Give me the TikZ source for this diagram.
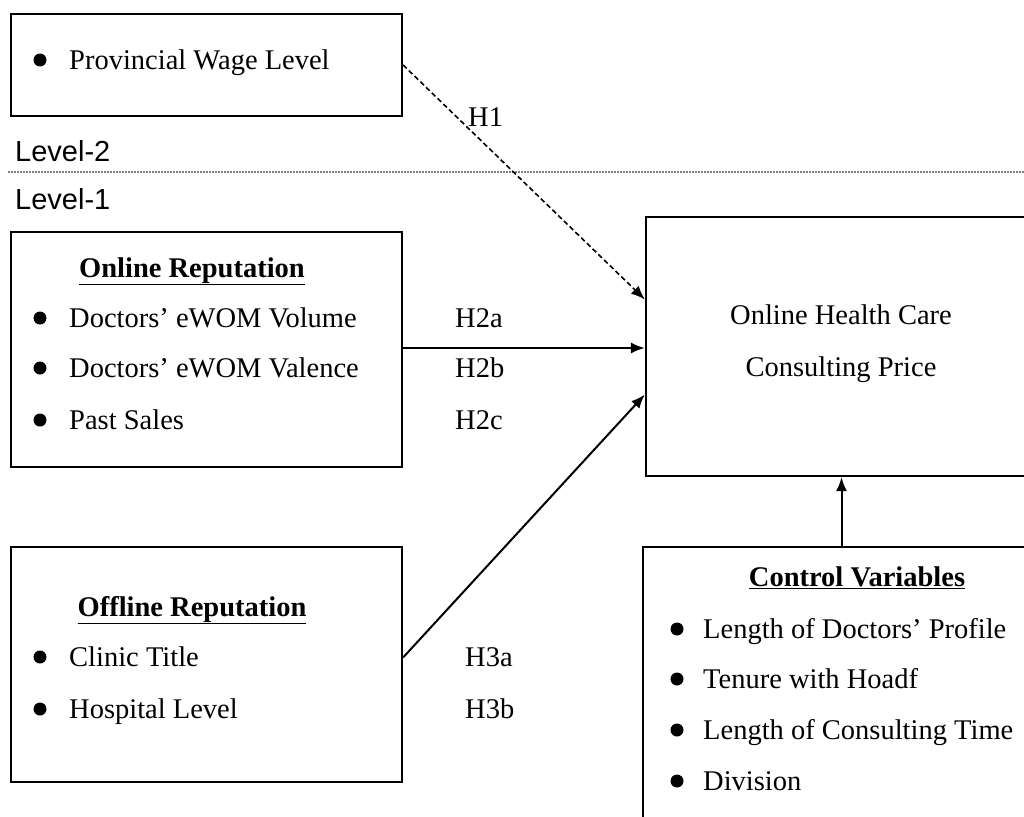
\documentclass[tikz,border=0pt]{standalone}
\usepackage{fontspec}
\setmainfont{Liberation Serif}
\newfontfamily\levelfont{Liberation Sans}
\usetikzlibrary{positioning,calc,arrows.meta}

\begin{document}
\begin{tikzpicture}[x=1pt, y=-1pt, font=\fontsize{28.5}{34}\selectfont,
    box/.style={draw, line width=2.2pt, inner sep=0},
    txt/.style={anchor=base west, inner sep=0},
    ttl/.style={anchor=base, inner sep=0},
    dot/.style={circle, fill, inner sep=0, minimum size=13pt},
    link/.style={line width=2pt, -{Latex[length=14pt,width=11pt]}}]
  \useasboundingbox (0,0) rectangle (1024,816);
  \clip (0,0) rectangle (1024,816);

  % boxes
  \node[box, minimum width=391pt, minimum height=102pt] (wage) at (206.5,65) {};
  \node[box, minimum width=391pt, minimum height=235pt] (online) at (206.5,349.5) {};
  \node[box, minimum width=391pt, minimum height=235pt] (offline) at (206.5,664.5) {};
  \node[box, minimum width=384pt, minimum height=259pt] (price) at (838,346.5) {};
  \node[box, minimum width=397pt, minimum height=283pt] (control) at (841.5,688.5) {};

  % level separator
  \coordinate (lvlL) at (8,172);
  \coordinate (lvlR) at (1024,172);
  \draw[gray, line width=1.2pt, dash pattern=on 1.5pt off 1.5pt] (lvlL) -- (lvlR);
  \node[txt, font=\fontsize{29}{34}\selectfont\levelfont] (lvl2) at (15,161) {Level-2};
  \node[txt, font=\fontsize{29}{34}\selectfont\levelfont] (lvl1) at (15,209) {Level-1};

  % level-2 variable
  \node[dot] (wage-d) at (40,60) {};
  \node[txt] (wage-t) at (69,69) {Provincial Wage Level};

  % online reputation
  \node[ttl] (online-h) at (192,277) {\underline{\textbf{Online Reputation}}};
  \foreach \y/\t [count=\i] in {327/Doctors’ eWOM Volume, 377/Doctors’ eWOM Valence, 429/Past Sales}{
    \node[dot] (on-d\i) at (40,\y-9) {};
    \node[txt] (on-t\i) at (69,\y) {\t};
  }

  % offline reputation
  \node[ttl] (offline-h) at (192,616) {\underline{\textbf{Offline Reputation}}};
  \foreach \y/\t [count=\i] in {666/Clinic Title, 718/Hospital Level}{
    \node[dot] (off-d\i) at (40,\y-9) {};
    \node[txt] (off-t\i) at (69,\y) {\t};
  }

  % dependent variable
  \node[ttl] (price-t1) at (841,324) {Online Health Care};
  \node[ttl] (price-t2) at (841,376) {Consulting Price};

  % control variables
  \node[ttl] (control-h) at (857,586) {\underline{\textbf{Control Variables}}};
  \foreach \y/\t [count=\i] in {638/Length of Doctors’ Profile, 688/Tenure with Hoadf,
      739/Length of Consulting Time, 790/Division}{
    \node[dot] (cv-d\i) at (677,\y-9) {};
    \node[txt] (cv-t\i) at (703,\y) {\t};
  }

  % hypotheses
  \draw[link, line width=1.6pt, dash pattern=on 5pt off 3pt] (wage.east) -- ([yshift=47pt]price.west);
  \draw[link] ([yshift=1.5pt]online.east) -- ([yshift=1.5pt]online.east -| price.west);
  \draw[link] ([yshift=7pt]offline.east) -- ([yshift=-48pt]price.west);
  \draw[link] (control.north) -- (control.north |- price.south);

  \node[txt] (h1) at (468,126) {H1};
  \node[txt] (h2a) at (455,327) {H2a};
  \node[txt] (h2b) at (455,377) {H2b};
  \node[txt] (h2c) at (455,429) {H2c};
  \node[txt] (h3a) at (465,666) {H3a};
  \node[txt] (h3b) at (465,718) {H3b};
\end{tikzpicture}
\end{document}
